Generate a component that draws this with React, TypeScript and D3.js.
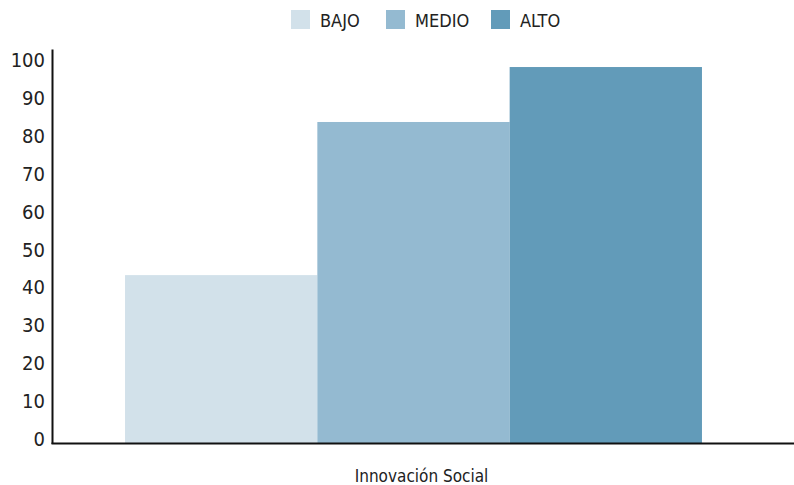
import React from "react";
import * as d3 from "d3";

const categories = ["Innovación Social"];
const seriesNames = ["BAJO", "MEDIO", "ALTO"];
const seriesValues = [44.3, 84.7, 99.2];
const seriesColors = ["#d2e1ea", "#94bad1", "#629bb9"];
const yTicks = [0, 10, 20, 30, 40, 50, 60, 70, 80, 90, 100];

const W = 794;
const H = 485;
const FONT = "'Liberation Sans Narrow', 'DejaVu Sans Condensed', Roboto, sans-serif";

export default function App() {
  const x0 = d3.scaleBand<string>().domain(categories).range([53, 774]).padding(0.111);
  const x1 = d3.scaleBand<string>().domain(seriesNames).range([0, x0.bandwidth()]);
  const y = d3.scaleLinear().domain([0, 100]).range([443, 64]);

  const legendX = [291, 386, 491];

  return (
    <svg width={W} height={H} style={{ position: "absolute", left: 0, top: 0, background: "#fff" }}>
      {/* bars */}
      {categories.map((c) => (
        <g key={c} transform={`translate(${x0(c)},0)`}>
          {seriesNames.map((s, i) => (
            <rect
              key={s}
              x={x1(s)}
              y={y(seriesValues[i])}
              width={x1.bandwidth()}
              height={y(0) - y(seriesValues[i])}
              fill={seriesColors[i]}
            />
          ))}
        </g>
      ))}
      {/* y axis */}
      <line x1={52.5} x2={52.5} y1={49.5} y2={444} stroke="#111" strokeWidth={2} />
      {yTicks.map((t) => (
        <text
          key={t}
          x={45}
          y={y(t) - 4}
          textAnchor="end"
          dominantBaseline="central"
          fontFamily={FONT}
          fontSize={20}
          fill="#222"
        >
          {t}
        </text>
      ))}
      {/* x axis */}
      <line x1={51.5} x2={W} y1={443.5} y2={443.5} stroke="#111" strokeWidth={2} />
      {categories.map((c) => (
        <text
          key={c}
          x={(x0(c) as number) + x0.bandwidth() / 2 + 8}
          y={482}
          textAnchor="middle"
          fontFamily={FONT}
          fontSize={17}
          fill="#222"
        >
          {c}
        </text>
      ))}
      {/* legend */}
      {seriesNames.map((s, i) => (
        <g key={s}>
          <rect x={legendX[i]} y={10} width={19} height={19} fill={seriesColors[i]} />
          <text
            x={legendX[i] + 29}
            y={20}
            dominantBaseline="central"
            fontFamily={FONT}
            fontSize={18}
            fill="#222"
          >
            {s}
          </text>
        </g>
      ))}
    </svg>
  );
}
